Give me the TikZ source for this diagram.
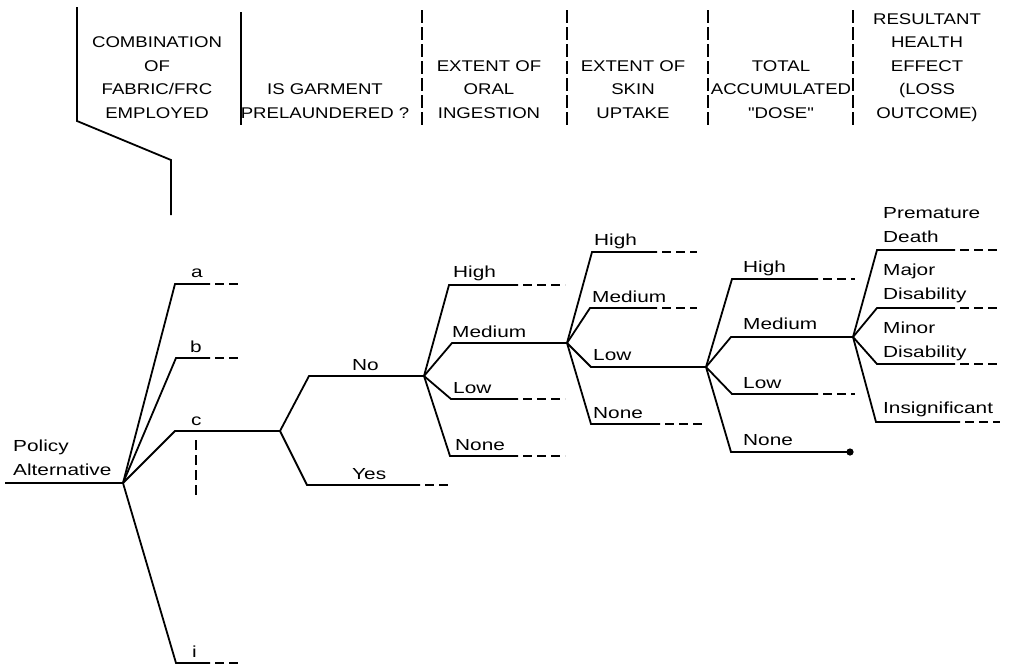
\documentclass[tikz,border=0pt]{standalone}
\usepackage{fontspec}
\setmainfont[FakeStretch=1.3]{Liberation Sans}
\newfontfamily\hdrfont[FakeStretch=1.2]{Liberation Sans}
\begin{document}
\begin{tikzpicture}[x=1pt,y=-1pt,
  br/.style={line width=1.8pt},
  dsh/.style={line width=1.8pt, dash pattern=on 9pt off 5pt, dash phase=9pt},
  div/.style={line width=1.8pt, dash pattern=on 13pt off 4pt},
  lbl/.style={anchor=base west, inner sep=0pt, align=left, font=\fontsize{16}{23.5}\selectfont},
  hd/.style={anchor=base, inner sep=0pt, align=center, font=\hdrfont\fontsize{15.5}{23.4}\selectfont}]
\useasboundingbox (0,0) rectangle (1009,665);

% ---------- header ----------
\coordinate (h1a) at (77,7);
\coordinate (h1b) at (77,121);
\coordinate (h1c) at (171,160);
\coordinate (h1d) at (171,215);
\draw[br] (h1a) -- (h1b) -- (h1c) -- (h1d);
\coordinate (h2a) at (241,12); \coordinate (h2b) at (241,125);
\draw[br] (h2a) -- (h2b);
\coordinate (h3a) at (422,10); \coordinate (h3b) at (422,125);
\coordinate (h4a) at (567,10); \coordinate (h4b) at (567,125);
\coordinate (h5a) at (708,10); \coordinate (h5b) at (708,125);
\coordinate (h6a) at (853,10); \coordinate (h6b) at (853,125);
\draw[div] (h3a) -- (h3b);
\draw[div] (h4a) -- (h4b);
\draw[div] (h5a) -- (h5b);
\draw[div] (h6a) -- (h6b);

\node[hd] (t1) at (157,118) {COMBINATION\\OF\\FABRIC/FRC\\EMPLOYED};
\node[hd] (t2) at (325,118) {IS GARMENT\\PRELAUNDERED ?};
\node[hd] (t3) at (489,118) {EXTENT OF\\ORAL\\INGESTION};
\node[hd] (t4) at (633,118) {EXTENT OF\\SKIN\\UPTAKE};
\node[hd] (t5) at (781,118) {TOTAL\\ACCUMULATED\\"DOSE"};
\node[hd] (t6) at (927,118) {RESULTANT\\HEALTH\\EFFECT\\(LOSS\\OUTCOME)};

% ---------- tree points ----------
\coordinate (pa) at (5,483);
\coordinate (R) at (123,483);
\coordinate (ca) at (175,284); \coordinate (ea) at (210,284); \coordinate (fa) at (242,284);
\coordinate (cb) at (176,358); \coordinate (eb) at (210,358); \coordinate (fb) at (240,358);
\coordinate (cc) at (175,431); \coordinate (P) at (280,431);
\coordinate (ci) at (176,663); \coordinate (ei) at (210,663); \coordinate (fi) at (242,663);
\coordinate (va) at (196,440); \coordinate (vb) at (196,497);
\coordinate (cno) at (309,376); \coordinate (N1) at (424,376);
\coordinate (cyes) at (307,485); \coordinate (eyes) at (420,485); \coordinate (fyes) at (450,485);
% oral
\coordinate (oh) at (449,285); \coordinate (oh1) at (518,285); \coordinate (oh2) at (565,285);
\coordinate (om) at (452,343); \coordinate (N2) at (567,343);
\coordinate (ol) at (451,399); \coordinate (ol1) at (518,399); \coordinate (ol2) at (565,399);
\coordinate (on) at (450,456); \coordinate (on1) at (518,456); \coordinate (on2) at (565,456);
% skin
\coordinate (sh) at (592,252); \coordinate (sh1) at (657,252); \coordinate (sh2) at (697,252);
\coordinate (sm) at (590,308); \coordinate (sm1) at (657,308); \coordinate (sm2) at (697,308);
\coordinate (sl) at (591,367); \coordinate (N3) at (706,367);
\coordinate (sn) at (591,424); \coordinate (sn1) at (660,424); \coordinate (sn2) at (703,424);
% dose
\coordinate (dh) at (732,279); \coordinate (dh1) at (818,279); \coordinate (dh2) at (855,279);
\coordinate (dm) at (731,337); \coordinate (N4) at (853,337);
\coordinate (dl) at (732,394); \coordinate (dl1) at (818,394); \coordinate (dl2) at (855,394);
\coordinate (dn) at (731,452); \coordinate (dn1) at (850,452);
% outcome
\coordinate (pd) at (877,250); \coordinate (pd1) at (955,250); \coordinate (pd2) at (1000,250);
\coordinate (mj) at (877,308); \coordinate (mj1) at (955,308); \coordinate (mj2) at (1000,308);
\coordinate (mn) at (877,364); \coordinate (mn1) at (955,364); \coordinate (mn2) at (1000,364);
\coordinate (is) at (876,422); \coordinate (is1) at (960,422); \coordinate (is2) at (1000,422);

% ---------- connectors ----------
\draw[br] (pa) -- (R);
\draw[br] (R) -- (ca) -- (ea); \draw[dsh] (ea) -- (fa);
\draw[br] (R) -- (cb) -- (eb); \draw[dsh] (eb) -- (fb);
\draw[br] (R) -- (cc) -- (P);
\draw[br] (R) -- (ci) -- (ei); \draw[dsh] (ei) -- (fi);
\draw[line width=1.8pt, dash pattern=on 10pt off 5pt] (va) -- (vb);
\draw[br] (P) -- (cno) -- (N1);
\draw[br] (P) -- (cyes) -- (eyes); \draw[dsh] (eyes) -- (fyes);

\draw[br] (N1) -- (oh) -- (oh1); \draw[dsh] (oh1) -- (oh2);
\draw[br] (N1) -- (om) -- (N2);
\draw[br] (N1) -- (ol) -- (ol1); \draw[dsh] (ol1) -- (ol2);
\draw[br] (N1) -- (on) -- (on1); \draw[dsh] (on1) -- (on2);

\draw[br] (N2) -- (sh) -- (sh1); \draw[dsh] (sh1) -- (sh2);
\draw[br] (N2) -- (sm) -- (sm1); \draw[dsh] (sm1) -- (sm2);
\draw[br] (N2) -- (sl) -- (N3);
\draw[br] (N2) -- (sn) -- (sn1); \draw[dsh] (sn1) -- (sn2);

\draw[br] (N3) -- (dh) -- (dh1); \draw[dsh] (dh1) -- (dh2);
\draw[br] (N3) -- (dm) -- (N4);
\draw[br] (N3) -- (dl) -- (dl1); \draw[dsh] (dl1) -- (dl2);
\draw[br] (N3) -- (dn) -- (dn1);
\fill (dn1) circle (3.6pt);

\draw[br] (N4) -- (pd) -- (pd1); \draw[dsh] (pd1) -- (pd2);
\draw[br] (N4) -- (mj) -- (mj1); \draw[dsh] (mj1) -- (mj2);
\draw[br] (N4) -- (mn) -- (mn1); \draw[dsh] (mn1) -- (mn2);
\draw[br] (N4) -- (is) -- (is1); \draw[dsh] (is1) -- (is2);

% ---------- labels ----------
\node[lbl] (lpol) at (13,475) {Policy\\Alternative};
\node[lbl] (la) at (191,277) {a};
\node[lbl] (lb) at (190,352) {b};
\node[lbl] (lc) at (191,425) {c};
\node[lbl] (li) at (192,657) {i};
\node[lbl] (lno) at (352,370) {No};
\node[lbl] (lyes) at (352,479) {Yes};
\node[lbl] (loh) at (453,277) {High};
\node[lbl] (lom) at (452,337) {Medium};
\node[lbl] (lol) at (453,393) {Low};
\node[lbl] (lon) at (455,450) {None};
\node[lbl] (lsh) at (594,245) {High};
\node[lbl] (lsm) at (592,302) {Medium};
\node[lbl] (lsl) at (593,360) {Low};
\node[lbl] (lsn) at (593,418) {None};
\node[lbl] (ldh) at (743,272) {High};
\node[lbl] (ldm) at (743,329) {Medium};
\node[lbl] (ldl) at (743,388) {Low};
\node[lbl] (ldn) at (743,445) {None};
\node[lbl] (lpd) at (883,242) {Premature\\Death};
\node[lbl] (lmj) at (883,299) {Major\\Disability};
\node[lbl] (lmn) at (883,357) {Minor\\Disability};
\node[lbl] (lis) at (883,413) {Insignificant};
\end{tikzpicture}
\end{document}
